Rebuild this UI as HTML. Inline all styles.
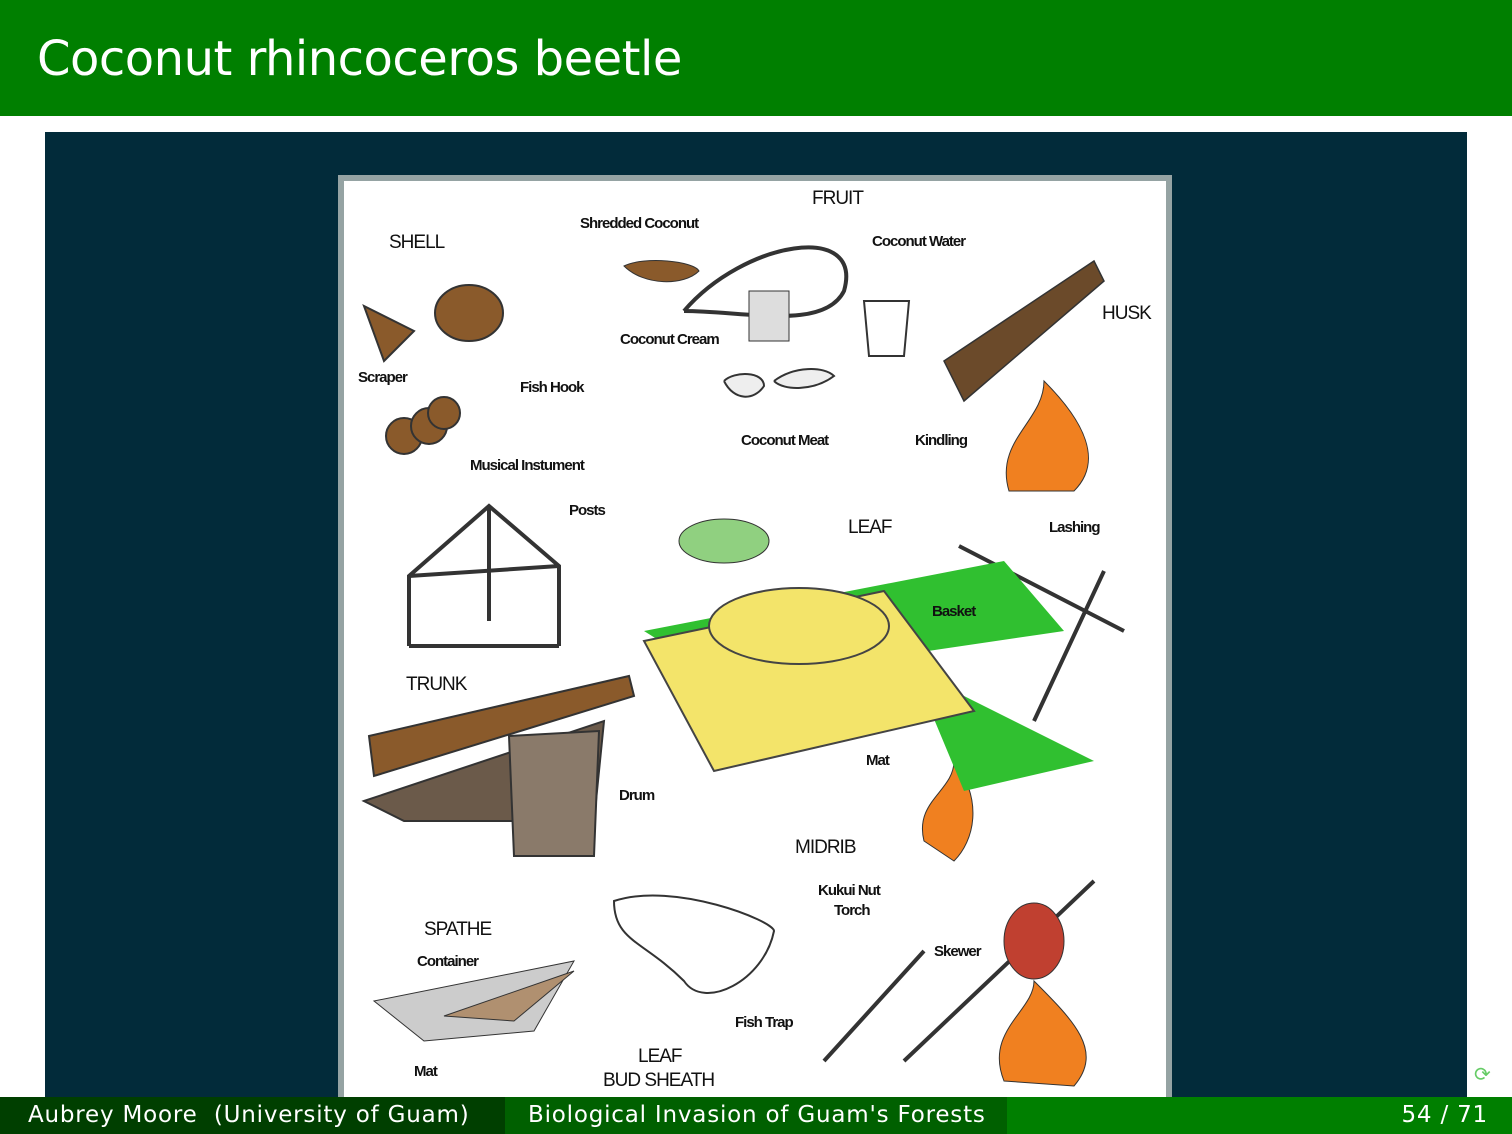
<!DOCTYPE html>
<html><head><meta charset="utf-8"><style>
*{margin:0;padding:0}
body{width:1512px;height:1134px;position:relative;background:#fff;overflow:hidden;font-family:"DejaVu Sans","Liberation Sans",sans-serif}
.hdr{position:absolute;left:0;top:0;width:1512px;height:116px;background:#007f00}
.hdr span{position:absolute;left:37px;top:31px;color:#fff;font-size:48px;letter-spacing:-0.5px}
.panel{position:absolute;left:45px;top:132px;width:1422px;height:965px;background:#022b3a}
.img{position:absolute;left:338px;top:175px;width:822px;height:922px;background:#fff;border:6px solid #95a3a3;border-bottom:none}
.l{position:absolute;font-family:"Liberation Sans",sans-serif;color:#111;font-size:15px;letter-spacing:-1px;font-weight:bold;white-space:nowrap;margin-top:-4px}
.b{font-size:19px;font-weight:normal}
.ft{position:absolute;top:1097px;height:37px;color:#fff;font-size:23px;line-height:37px;letter-spacing:0.8px}
</style></head><body>
<div class="hdr"><span>Coconut rhincoceros beetle</span></div>
<div class="panel"></div>
<div class="img">
<svg width="822" height="922" style="position:absolute;left:0;top:0">
<g fill="#8a5a2b" stroke="#333" stroke-width="2">
<ellipse cx="125" cy="132" rx="34" ry="28"/>
<path d="M20 125 L70 150 L40 180 Z"/>
<circle cx="60" cy="255" r="18"/><circle cx="85" cy="245" r="18"/><circle cx="100" cy="232" r="16"/>
<path d="M25 555 L285 495 L290 515 L30 595 Z"/>
<path d="M20 620 L260 540 L250 640 L60 640 Z" fill="#6b5a4a"/>
<path d="M165 555 L255 550 L250 675 L170 675 Z" fill="#8a7a6a"/>
</g>
<g fill="none" stroke="#333" stroke-width="4">
<path d="M65 465 L65 395 L145 325 L215 385 L215 465"/><path d="M65 465 L215 465 M145 325 L145 440 M65 395 L215 385"/>
<path d="M340 130 C400 60 520 40 500 110 C480 150 400 130 340 130"/>
<path d="M615 365 L780 450 M760 390 L690 540"/>
<path d="M580 770 L480 880 M750 700 L560 880"/>
</g>
<g fill="#6b4a2a" stroke="#333" stroke-width="1.5"><path d="M600 180 L750 80 L760 100 L620 220 Z"/></g>
<path d="M665 310 C650 260 700 240 700 200 C740 240 760 280 730 310 Z" fill="#f08020" stroke="#333"/>
<path d="M580 660 C570 620 610 610 610 580 C640 620 630 660 610 680 Z" fill="#f08020" stroke="#333"/>
<path d="M660 900 C640 850 690 830 690 800 C730 840 760 870 730 905 Z" fill="#f08020" stroke="#333"/>
<ellipse cx="690" cy="760" rx="30" ry="38" fill="#c04030" stroke="#333"/>
<path d="M300 450 L660 380 L720 450 L380 500 Z M310 460 L560 520 L460 560 Z M570 490 L750 580 L620 610 Z" fill="#30c030"/>
<ellipse cx="380" cy="360" rx="45" ry="22" fill="#90d080" stroke="#333"/>
<path d="M300 460 L540 410 L630 530 L370 590 Z" fill="#f3e46a" stroke="#444" stroke-width="2"/>
<ellipse cx="455" cy="445" rx="90" ry="38" fill="#f3e46a" stroke="#444" stroke-width="2"/>
<path d="M270 720 C330 700 430 740 430 750 C420 800 360 830 340 800 C300 760 270 760 270 720 Z" fill="#fff" stroke="#333" stroke-width="2"/>
<path d="M30 820 L230 780 L190 850 L80 860 Z" fill="#ccc" stroke="#333"/>
<path d="M100 835 L230 790 L170 840 Z" fill="#b09070" stroke="#333"/>
<path d="M520 120 L565 120 L560 175 L525 175 Z" fill="#fff" stroke="#333" stroke-width="2"/>
<path d="M405 110 L445 110 L445 160 L405 160 Z" fill="#ddd" stroke="#333"/>
<path d="M280 85 C300 75 350 80 355 90 C340 105 300 105 280 85 Z" fill="#8a5a2b" stroke="#333"/>
<path d="M380 200 C390 190 420 190 420 205 C410 220 390 220 380 200 M430 200 C450 185 480 185 490 195 C470 210 440 210 430 200" fill="#eee" stroke="#333" stroke-width="2"/>
</svg>
<div class="l b" style="left:468px;top:11px">FRUIT</div>
<div class="l" style="left:236px;top:38px">Shredded Coconut</div>
<div class="l b" style="left:45px;top:55px">SHELL</div>
<div class="l" style="left:528px;top:56px">Coconut Water</div>
<div class="l b" style="left:758px;top:126px">HUSK</div>
<div class="l" style="left:276px;top:154px">Coconut Cream</div>
<div class="l" style="left:14px;top:192px">Scraper</div>
<div class="l" style="left:176px;top:202px">Fish Hook</div>
<div class="l" style="left:397px;top:255px">Coconut Meat</div>
<div class="l" style="left:571px;top:255px">Kindling</div>
<div class="l" style="left:126px;top:280px">Musical Instument</div>
<div class="l" style="left:225px;top:325px">Posts</div>
<div class="l b" style="left:504px;top:340px">LEAF</div>
<div class="l" style="left:705px;top:342px">Lashing</div>
<div class="l" style="left:588px;top:426px">Basket</div>
<div class="l b" style="left:62px;top:497px">TRUNK</div>
<div class="l" style="left:522px;top:575px">Mat</div>
<div class="l" style="left:275px;top:610px">Drum</div>
<div class="l b" style="left:451px;top:660px">MIDRIB</div>
<div class="l" style="left:474px;top:705px">Kukui Nut</div>
<div class="l" style="left:490px;top:725px">Torch</div>
<div class="l b" style="left:80px;top:742px">SPATHE</div>
<div class="l" style="left:590px;top:766px">Skewer</div>
<div class="l" style="left:73px;top:776px">Container</div>
<div class="l" style="left:391px;top:837px">Fish Trap</div>
<div class="l b" style="left:294px;top:869px">LEAF</div>
<div class="l" style="left:70px;top:886px">Mat</div>
<div class="l b" style="left:259px;top:893px">BUD SHEATH</div>
</div>
<div style="position:absolute;left:1474px;top:1062px;color:#6c6;font-size:20px">⟳</div>
<div class="ft" style="left:0;width:505px;background:#003f00"><span style="margin-left:28px">Aubrey Moore &nbsp;(University of Guam)</span></div>
<div class="ft" style="left:505px;width:502px;background:#006000"><span style="margin-left:23px">Biological Invasion of Guam's Forests</span></div>
<div class="ft" style="left:1007px;width:505px;background:#007f00;text-align:right"><span style="margin-right:24px">54 / 71</span></div>
</body></html>
